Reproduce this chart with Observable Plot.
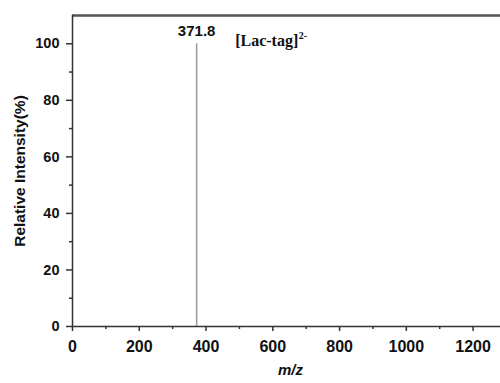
<!DOCTYPE html>
<html><head><meta charset="utf-8">
<script src="https://cdn.jsdelivr.net/npm/d3@7"></script>
<script src="https://cdn.jsdelivr.net/npm/@observablehq/plot@0.6"></script>
<style>body{margin:0;background:#fff;overflow:hidden} svg{display:block}</style>
</head><body><div id="chart"></div>
<script>
const peakMz = [371.8];
const peakIntensity = [100];
const peakLabels = ["371.8"];
const ionLabel = "[Lac-tag]";
const ionCharge = "2-";
const xTicks = [0, 200, 400, 600, 800, 1000, 1200];
const xMinorTicks = [100, 300, 500, 700, 900, 1100];
const yTicks = [0, 20, 40, 60, 80, 100];
const yMinorTicks = [10, 30, 50, 70, 90];
const xTitle = "m/z";
const yTitle = "Relative Intensity(%)";
const xDomain = [0, 1282];
const yDomain = [0, 110];

const peaks = peakMz.map((mz, i) => ({mz, intensity: peakIntensity[i], label: peakLabels[i]}));
const sans = "'Liberation Sans', Arial, sans-serif";
const serif = "'Liberation Serif', 'Times New Roman', serif";

const plot = Plot.plot({
  width: 500, height: 383,
  marginLeft: 72, marginRight: 0, marginTop: 15, marginBottom: 57,
  style: {fontFamily: sans, background: "#fff", color: "#111"},
  x: {domain: xDomain, axis: null},
  y: {domain: yDomain, axis: null},
  marks: [
    Plot.ruleY([yDomain[1]], {stroke: "#555", strokeWidth: 2.5}),
    Plot.ruleX(peaks, {x: "mz", y1: 0, y2: "intensity", stroke: "#999", strokeWidth: 1.5}),
    Plot.axisX({ticks: xTicks, tickFormat: (d) => String(d), tickSize: 5, tickPadding: 9, fontSize: 16, fontWeight: "bold", stroke: "#333", strokeWidth: 1.5, fill: "#111", label: null}),
    Plot.axisX({ticks: xMinorTicks, tickSize: 3, tickFormat: () => "", stroke: "#333", strokeWidth: 1.5, label: null}),
    Plot.axisY({ticks: yTicks, tickFormat: (d) => String(d), tickSize: 6, tickPadding: 7, fontSize: 14.5, fontWeight: "bold", stroke: "#333", strokeWidth: 1.5, fill: "#111", label: null}),
    Plot.axisY({ticks: yMinorTicks, tickSize: 3, tickFormat: () => "", stroke: "#333", strokeWidth: 1.5, label: null}),
    Plot.ruleY([0], {stroke: "#333", strokeWidth: 1.5}),
    Plot.ruleX([0], {stroke: "#333", strokeWidth: 1.5}),
    Plot.text(peaks, {x: "mz", y: "intensity", text: "label", dy: -13, fontSize: 15, fontWeight: "bold", fill: "#111"}),
    Plot.text(peaks, {x: "mz", y: "intensity", text: () => ionLabel, textAnchor: "start", dx: 38.5, dy: -2.5, fontFamily: serif, fontSize: 16, fontWeight: "bold", fill: "#111"}),
    Plot.text(peaks, {x: "mz", y: "intensity", text: () => ionCharge, textAnchor: "start", dx: 102, dy: -8.2, fontFamily: serif, fontSize: 10, fontWeight: "bold", fill: "#111"}),
    Plot.text([yTitle], {frameAnchor: "left", textAnchor: "middle", rotate: -90, dx: -52, fontSize: 15.5, fontWeight: "bold", fill: "#111"}),
    Plot.text([xTitle], {frameAnchor: "bottom", textAnchor: "middle", dx: 4, dy: 48, fontSize: 15, fontWeight: "bold", fontStyle: "italic", fill: "#111"})
  ]
});
document.getElementById("chart").appendChild(plot);
</script>
</body></html>
